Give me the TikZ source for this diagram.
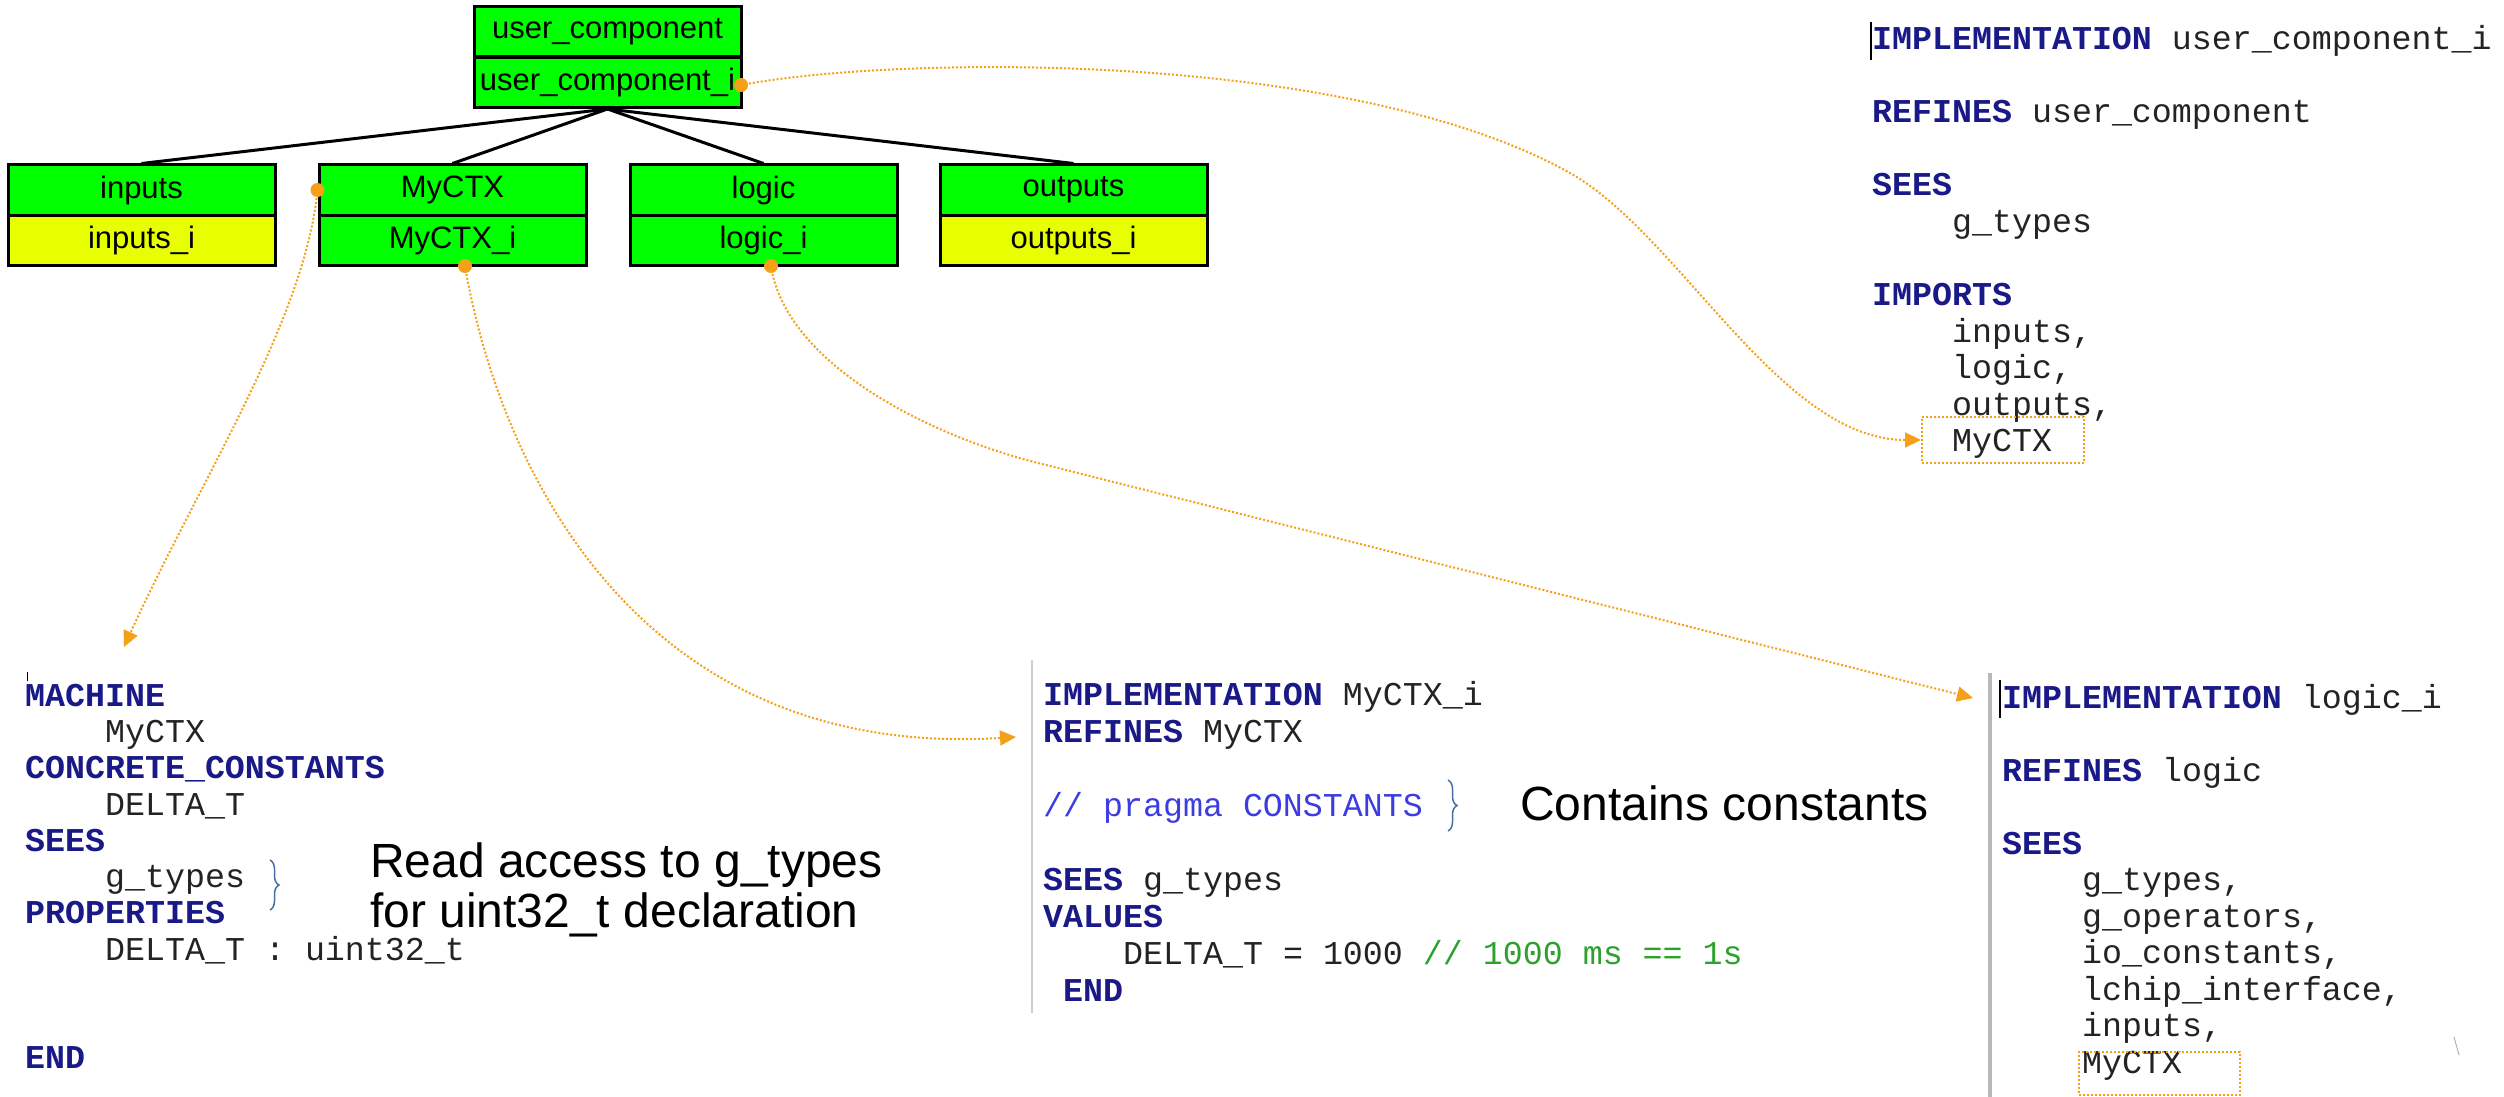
\documentclass[tikz,border=0pt]{standalone}
\usepackage{fontspec}
\setmainfont{Liberation Sans}
\newfontfamily\codefont{Liberation Mono}
\usetikzlibrary{arrows.meta,decorations.pathreplacing}

\definecolor{boxgreen}{RGB}{0,255,0}
\definecolor{boxyellow}{RGB}{232,255,0}
\definecolor{linkorange}{RGB}{245,160,25}
\definecolor{kwnavy}{RGB}{25,25,135}
\definecolor{idgray}{RGB}{35,35,35}
\definecolor{cmtblue}{RGB}{60,60,225}
\definecolor{cmtgreen}{RGB}{45,160,45}
\definecolor{bracecol}{RGB}{70,110,160}
\definecolor{rulegray}{RGB}{205,205,205}
\definecolor{rulegraydark}{RGB}{185,185,185}

% keyword and comment markup for the B listings
\newcommand\kwd[1]{{\bfseries\color{kwnavy}#1}}

\begin{document}
\begin{tikzpicture}[x=1pt,y=-1pt,
  cbox/.style={draw=black, line width=3pt, minimum width=267pt, minimum height=50pt,
    inner sep=0pt, font=\fontsize{31}{31}\selectfont},
  tedge/.style={draw=black, line width=3pt},
  code/.style={font=\codefont\fontsize{33.3}{36}\selectfont, anchor=base west,
    inner sep=0pt, text=idgray},
  note/.style={font=\fontsize{48}{50}\selectfont, anchor=base west, inner sep=0pt},
  link/.style={draw=linkorange, line width=2pt, dash pattern=on 2pt off 2pt,
    -{Triangle[length=16pt,width=15pt,fill=linkorange]}},
  hl/.style={draw=linkorange, line width=2pt, dash pattern=on 2pt off 2pt,
    inner sep=0pt},
  cbrace/.style={draw=bracecol, line width=1.5pt, decorate,
    decoration={brace, amplitude=9pt}}]

\useasboundingbox (0,0) rectangle (2504,1097);

% component hierarchy
\node[cbox, fill=boxgreen] (uc)  at (607.5,32)   {user\_component};
\node[cbox, fill=boxgreen] (uci) at (607.5,82.5) {user\_component\_i};

\node[cbox, fill=boxgreen]  (inp)   at (141.5,190)   {inputs};
\node[cbox, fill=boxyellow] (inpi)  at (141.5,240.5) {inputs\_i};
\node[cbox, fill=boxgreen]  (myc)   at (452.5,190)   {MyCTX};
\node[cbox, fill=boxgreen]  (myci)  at (452.5,240.5) {MyCTX\_i};
\node[cbox, fill=boxgreen]  (lgc)   at (763.5,190)   {logic};
\node[cbox, fill=boxgreen]  (lgci)  at (763.5,240.5) {logic\_i};
\node[cbox, fill=boxgreen]  (outp)  at (1073.5,190)  {outputs};
\node[cbox, fill=boxyellow] (outpi) at (1073.5,240.5) {outputs\_i};

\draw[tedge] (uci.south) -- (inp.north);
\draw[tedge] (uci.south) -- (myc.north);
\draw[tedge] (uci.south) -- (lgc.north);
\draw[tedge] (uci.south) -- (outp.north);

% listing: user_component_i
\draw[line width=1.5pt] (1871,22) -- (1871,60);
\node[code] (tr0) at (1872,50)    {\kwd{IMPLEMENTATION} user\_component\_i};
\node[code] (tr1) at (1872,123)   {\kwd{REFINES} user\_component};
\node[code] (tr2) at (1872,196)   {\kwd{SEES}};
\node[code] (tr3) at (1952,232.5) {g\_types};
\node[code] (tr4) at (1872,305)   {\kwd{IMPORTS}};
\node[code] (tr5) at (1952,342)   {inputs,};
\node[code] (tr6) at (1952,378.5) {logic,};
\node[code] (tr7) at (1952,415)   {outputs,};
\node[code] (tr8) at (1952,451)   {MyCTX};
\node[hl, minimum width=162pt, minimum height=46pt] (trbox) at (2003,440) {};

% listing: MyCTX machine
\draw[line width=1pt] (27,672) -- (27,681);
\node[code] (bl0) at (25,706)    {\kwd{MACHINE}};
\node[code] (bl1) at (105,742.3) {MyCTX};
\node[code] (bl2) at (25,778.6)  {\kwd{CONCRETE\_CONSTANTS}};
\node[code] (bl3) at (105,815)   {DELTA\_T};
\node[code] (bl4) at (25,851.2)  {\kwd{SEES}};
\node[code] (bl5) at (105,887.5) {g\_types};
\node[code] (bl6) at (25,923.8)  {\kwd{PROPERTIES}};
\node[code] (bl7) at (105,960)   {DELTA\_T : uint32\_t};
\node[code] (bl8) at (25,1068.5) {\kwd{END}};
\draw[cbrace] (270,860) -- (270,910);
\node[note] (n1a) at (370,877) {Read access to g\_types};
\node[note] (n1b) at (370,927) {for uint32\_t declaration};

% listing: MyCTX_i implementation
\draw[rulegray, line width=2pt] (1032,660) -- (1032,1013);
\node[code] (ml0) at (1043,705) {\kwd{IMPLEMENTATION} MyCTX\_i};
\node[code] (ml1) at (1043,742) {\kwd{REFINES} MyCTX};
\node[code] (ml2) at (1043,816) {\color{cmtblue}// pragma CONSTANTS};
\node[code] (ml3) at (1043,890) {\kwd{SEES} g\_types};
\node[code] (ml4) at (1043,927) {\kwd{VALUES}};
\node[code] (ml5) at (1123,964) {DELTA\_T = 1000 {\color{cmtgreen}// 1000 ms == 1s}};
\node[code] (ml6) at (1063,1001) {\kwd{END}};
\draw[cbrace] (1448,780) -- (1448,831);
\node[note] (n2) at (1520,820) {Contains constants};

% listing: logic_i implementation
\draw[rulegraydark, line width=4pt] (1990,673) -- (1990,1097);
\draw[line width=1.5pt] (2000,680) -- (2000,718);
\node[code] (rb0) at (2002,708)    {\kwd{IMPLEMENTATION} logic\_i};
\node[code] (rb1) at (2002,781)    {\kwd{REFINES} logic};
\node[code] (rb2) at (2002,854)    {\kwd{SEES}};
\node[code] (rb3) at (2082,890.5)  {g\_types,};
\node[code] (rb4) at (2082,927)    {g\_operators,};
\node[code] (rb5) at (2082,963.5)  {io\_constants,};
\node[code] (rb6) at (2082,1000)   {lchip\_interface,};
\node[code] (rb7) at (2082,1036.5) {inputs,};
\node[code] (rb8) at (2082,1073)   {MyCTX};
\node[hl, minimum width=161pt, minimum height=43pt] (rbbox) at (2159.5,1073.5) {};
\draw[black!30, line width=1pt] (2454,1037) -- (2459,1055);

% link targets
\coordinate (machTarget) at (124,647);
\coordinate (ctxiTarget) at (1016,737);
\coordinate (logiTarget) at (1973,698);
\coordinate (uciStart)  at (741,85);
\coordinate (myciStart) at (465,266);
\coordinate (lgciStart) at (771,266);

% orange links
\draw[link] (uciStart) .. controls (900,55) and (1350,50) .. (1570,173)
  .. controls (1680,235) and (1780,440) .. (trbox.west);
\draw[link] (myc.west) .. controls (305,320) and (200,480) .. (machTarget);
\draw[link] (myciStart) .. controls (500,470) and (640,760) .. (ctxiTarget);
\draw[link] (lgciStart) .. controls (785,360) and (920,433) .. (1038,463) -- (logiTarget);

\fill[linkorange] (uciStart) circle (7pt);
\fill[linkorange] (myc.west) circle (7pt);
\fill[linkorange] (myciStart) circle (7pt);
\fill[linkorange] (lgciStart) circle (7pt);
\end{tikzpicture}
\end{document}
